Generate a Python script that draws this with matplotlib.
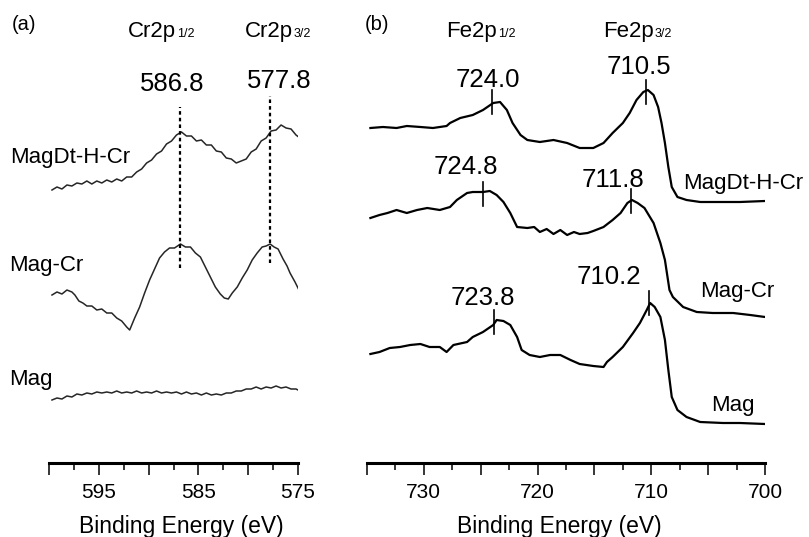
import matplotlib
matplotlib.use("Agg")
import matplotlib.pyplot as plt

plt.rcParams['font.family'] = ['Liberation Sans', 'DejaVu Sans']

# ---------------- Panel (a): Cr 2p ----------------
a_dt_E = [599.7, 599.2, 598.7, 598.2, 597.7, 597.2, 596.7, 596.2, 595.7, 595.2, 594.7, 594.2,
          593.7, 593.2, 592.7, 592.2, 591.7, 591.2, 590.7, 590.2, 589.7, 589.2, 588.7, 588.2,
          587.7, 587.2, 586.7, 586.2, 585.7, 585.2, 584.7, 584.2, 583.7, 583.2, 582.7, 582.2,
          581.7, 581.2, 580.7, 580.2, 579.7, 579.2, 578.7, 578.2, 577.7, 577.2, 576.7, 576.2,
          575.7, 575.2, 574.8]
a_dt_I = [273, 276, 274, 278, 277, 280, 279, 282, 279, 282, 280, 283,
          281, 284, 282, 286, 286, 291, 294, 300, 303, 309, 312, 319,
          322, 328, 331, 327, 327, 322, 323, 318, 318, 312, 311, 305,
          304, 300, 302, 304, 311, 314, 322, 325, 332, 333, 338, 335,
          334, 328, 325]

a_mc_E = [599.7, 599.2, 598.7, 598.2, 597.7, 597.4, 597.0, 596.6, 596.2, 595.7, 595.2, 594.7,
          594.2, 593.7, 593.2, 592.7, 592.2, 591.9, 591.4, 590.9, 590.4, 589.9, 589.4, 588.9,
          588.4, 587.9, 587.4, 586.8, 586.3, 585.8, 585.3, 584.8, 584.3, 583.8, 583.3, 582.8,
          582.4, 582.0, 581.6, 581.1, 580.6, 580.1, 579.6, 579.1, 578.6, 578.2, 577.8, 577.4,
          577.0, 576.5, 576.1, 575.8, 575.3, 574.8]
a_mc_I = [168, 171, 169, 173, 171, 168, 162, 160, 157, 157, 153, 154,
          150, 150, 145, 142, 136, 133, 145, 156, 170, 183, 194, 205,
          211, 215, 215, 219, 216, 216, 210, 206, 196, 186, 176, 169,
          165, 164, 170, 176, 185, 193, 203, 210, 216, 217, 219, 216,
          214, 204, 197, 190, 181, 171]

a_mag_E = [599.7, 599.2, 598.7, 598.2, 597.7, 597.2, 596.7, 596.2, 595.7, 595.2, 594.7, 594.2,
           593.7, 593.2, 592.7, 592.2, 591.7, 591.2, 590.7, 590.2, 589.7, 589.2, 588.7, 588.2,
           587.7, 587.2, 586.7, 586.2, 585.7, 585.2, 584.7, 584.2, 583.7, 583.2, 582.7, 582.2,
           581.7, 581.2, 580.7, 580.2, 579.7, 579.2, 578.7, 578.2, 577.7, 577.2, 576.7, 576.2,
           575.7, 575.2, 574.8]
a_mag_I = [63, 65, 64, 67, 66, 69, 68, 70, 69, 71, 70, 71,
           70, 72, 70, 71, 70, 72, 70, 71, 70, 72, 70, 71,
           70, 71, 69, 71, 69, 70, 68, 70, 68, 69, 68, 70,
           70, 72, 72, 74, 74, 76, 74, 76, 75, 77, 75, 76,
           74, 74, 72]

a_peaks = [586.8, 577.8]
a_peak_labels = ["586.8", "577.8"]
a_peak_top = [356, 367]
a_peak_bottom = [195, 200]
a_label_x = [587.65, 576.9]
a_label_y = [379, 382]

a_ticks = [600, 595, 590, 585, 580, 575]
a_ticklabels = ["", "595", "", "585", "", "575"]
a_minor = [597.5, 592.5, 587.5, 582.5, 577.5]

# ---------------- Panel (b): Fe 2p ----------------
b_dt_E = [734.7, 733.6, 732.4, 731.5, 730.3, 729.2, 728.0, 727.7, 726.8, 725.7, 724.8, 723.9,
          723.3, 722.7, 722.2, 721.5, 720.9, 719.8, 718.6, 717.4, 716.3, 715.1, 714.2, 713.4,
          712.5, 711.9, 711.3, 710.7, 710.3, 709.8, 709.4, 709.1, 708.8, 708.5, 708.2, 707.7,
          706.9, 705.7, 703.7, 702.2, 700.0]
b_dt_I = [335, 336, 335, 337, 336, 335, 337, 340, 345, 348, 353, 360,
          361, 353, 340, 328, 323, 321, 323, 320, 315, 315, 320, 330,
          340, 350, 363, 371, 373, 368, 356, 340, 320, 296, 276, 266,
          263, 261, 261, 261, 262]

b_mc_E = [734.7, 733.9, 733.2, 732.4, 731.5, 730.6, 729.7, 728.6, 727.7, 727.1, 726.2, 725.7,
          724.8, 724.2, 723.6, 723.0, 722.4, 721.8, 720.9, 720.3, 719.8, 719.2, 718.6, 718.0,
          717.4, 716.8, 716.3, 715.6, 715.1, 714.2, 713.4, 712.7, 712.1, 711.7, 711.2, 710.6,
          709.8, 709.2, 708.8, 708.4, 708.1, 707.2, 706.0, 704.6, 702.8, 701.3, 700.0]
b_mc_I = [245, 248, 250, 253, 250, 253, 255, 253, 256, 263, 270, 271,
          271, 272, 268, 261, 250, 236, 235, 236, 231, 234, 229, 233,
          228, 231, 229, 230, 232, 236, 243, 250, 260, 263, 260, 255,
          240, 220, 203, 173, 166, 156, 151, 150, 150, 148, 146]

b_mag_E = [734.7, 733.9, 733.0, 732.1, 731.2, 730.3, 729.5, 728.6, 728.0, 727.4, 726.2, 725.7,
           724.8, 723.9, 723.6, 723.0, 722.4, 721.8, 721.4, 720.7, 719.8, 718.9, 718.0, 717.1,
           716.3, 715.1, 714.2, 713.9, 713.4, 712.5, 711.6, 711.0, 710.4, 710.1, 709.7, 709.2,
           708.8, 708.5, 708.2, 707.7, 706.9, 705.7, 703.7, 702.2, 700.0]
b_mag_I = [109, 111, 115, 116, 118, 119, 116, 116, 111, 118, 121, 126,
           131, 138, 143, 142, 138, 126, 113, 108, 106, 108, 108, 103,
           99, 97, 96, 101, 106, 116, 130, 140, 153, 160, 156, 146,
           123, 93, 66, 53, 46, 41, 40, 40, 39]

b_peaks = [724.0, 710.5, 724.8, 711.8, 723.8, 710.2]
b_peak_labels = ["724.0", "710.5", "724.8", "711.8", "723.8", "710.2"]
b_peak_mid = [361, 371, 269, 262, 141, 160]
b_label_x = [724.36, 711.08, 726.3, 713.4, 724.8, 713.7]
b_label_y = [383, 396, 296, 283, 165, 186]

b_ticks = [735, 730, 725, 720, 715, 710, 705, 700]
b_ticklabels = ["", "730", "", "720", "", "710", "", "700"]
b_minor = [732.5, 727.5, 722.5, 717.5, 712.5, 707.5, 702.5]

series_names = ["MagDt-H-Cr", "Mag-Cr", "Mag"]

W, H = 809, 537
fig = plt.figure(figsize=(W / 100, H / 100), dpi=100)

axis_y = 463
top_y = 10
ax_a = fig.add_axes([49 / W, (H - axis_y) / H, (298 - 49) / W, (axis_y - top_y) / H])
ax_b = fig.add_axes([367 / W, (H - axis_y) / H, (765 - 367) / W, (axis_y - top_y) / H])


def setup(ax, xlim, ticks, labels, minor, lab_x):
    ax.set_xlim(*xlim)
    ax.set_ylim(0, axis_y - top_y)
    for s in ['top', 'left', 'right']:
        ax.spines[s].set_visible(False)
    ax.spines['bottom'].set_linewidth(2.2)
    ax.set_yticks([])
    ax.set_xticks(ticks)
    ax.set_xticklabels(labels)
    ax.set_xticks(minor, minor=True)
    ax.tick_params(axis='x', which='major', length=8.5, width=1.1, direction='out',
                   labelsize=15, pad=6)
    ax.tick_params(axis='x', which='minor', length=5, width=1.1, direction='out')
    ax.patch.set_visible(False)
    ax.text(lab_x, -0.141, "Binding Energy (eV)", transform=ax.transAxes,
            ha='center', va='center', fontsize=16.5)


setup(ax_a, (600, 575), a_ticks, a_ticklabels, a_minor, 0.53)
setup(ax_b, (735, 700), b_ticks, b_ticklabels, b_minor, 0.482)

# panel (a) curves
for E, I in [(a_dt_E, a_dt_I), (a_mc_E, a_mc_I), (a_mag_E, a_mag_I)]:
    ax_a.plot(E, I, color='#262626', lw=1.1)
for p, t, b in zip(a_peaks, a_peak_top, a_peak_bottom):
    ax_a.plot([p, p], [b, t], color='black', lw=1.6, ls=(0, (1.6, 1.4)))
for lab, x, y in zip(a_peak_labels, a_label_x, a_label_y):
    ax_a.text(x, y, lab, ha='center', va='center', fontsize=18.5)

a_name_x = [603.9, 604.0, 604.0]
a_name_y = [306, 198, 83]
for n, x, y in zip(series_names, a_name_x, a_name_y):
    ax_a.text(x, y, n, ha='left', va='center', fontsize=16, clip_on=False)

ax_a.text(602.5, 438, "(a)", ha='center', va='center', fontsize=14.5, clip_on=False)


def orbital(ax, x, y, main, sub):
    t = ax.text(x, y, main, ha='left', va='center', fontsize=16, clip_on=False)
    ax.annotate(sub, xy=(1, 0), xycoords=t, xytext=(0.5, 1.8), textcoords='offset points',
                ha='left', va='bottom', fontsize=9)


orbital(ax_a, 592.07, 431, "Cr2p", "1/2")
orbital(ax_a, 580.3, 431, "Cr2p", "3/2")

# panel (b) curves
for E, I in [(b_dt_E, b_dt_I), (b_mc_E, b_mc_I), (b_mag_E, b_mag_I)]:
    ax_b.plot(E, I, color='black', lw=1.6)
for p, m in zip(b_peaks, b_peak_mid):
    ax_b.plot([p, p], [m - 12, m + 12], color='black', lw=1.2)
for lab, x, y in zip(b_peak_labels, b_label_x, b_label_y):
    ax_b.text(x, y, lab, ha='center', va='center', fontsize=18.5)

b_name_x = [707.2, 705.7, 704.7]
b_name_y = [280, 171, 58]
for n, x, y in zip(series_names, b_name_x, b_name_y):
    ax_b.text(x, y, n, ha='left', va='center', fontsize=16, clip_on=False)

ax_b.text(734.1, 438, "(b)", ha='center', va='center', fontsize=14.5, clip_on=False)
orbital(ax_b, 728.0, 431, "Fe2p", "1/2")
orbital(ax_b, 714.2, 431, "Fe2p", "3/2")

fig.savefig("out.png", dpi=100)
